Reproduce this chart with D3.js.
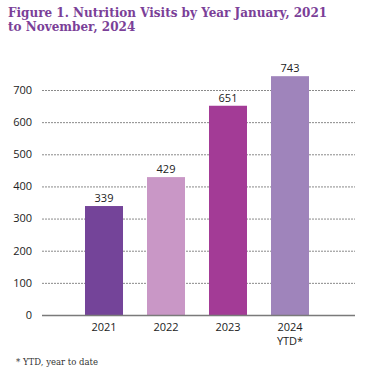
<!DOCTYPE html>
<html>
<head>
<meta charset="utf-8">
<script src="https://cdn.jsdelivr.net/npm/d3@7"></script>
<style>
  body { margin: 0; background: #fff; }
</style>
</head>
<body>
<div id="chart"></div>
<script>
// data
var years = ['2021', '2022', '2023', '2024'];
var yearNotes = ['', '', '', 'YTD*'];
var visits = [339, 429, 651, 743];
var barColors = ['#744499', '#c997c6', '#a33b96', '#9f84bb'];
var yTicks = [0, 100, 200, 300, 400, 500, 600, 700];

var width = 367, height = 375;

var svg = d3.select('#chart')
  .append('svg')
  .attr('width', width)
  .attr('height', height);

// title
var title = svg.append('text')
  .attr('fill', '#7b3f98')
  .attr('font-family', 'DejaVu Serif, serif')
  .attr('font-weight', 'bold')
  .attr('font-size', 12);
title.append('tspan').attr('x', 8).attr('y', 17).text('Figure 1. Nutrition Visits by Year January, 2021');
title.append('tspan').attr('x', 8).attr('y', 31).text('to November, 2024');

var x = d3.scaleBand()
  .domain(years)
  .range([73, 321])
  .paddingInner(0.387)
  .paddingOuter(0.1935);

var y = d3.scaleLinear()
  .domain([0, 700])
  .range([315, 90]);

// gridlines
svg.append('g')
  .selectAll('line')
  .data(yTicks.filter(function (d) { return d > 0; }))
  .enter().append('line')
  .attr('x1', 42)
  .attr('x2', 355)
  .attr('y1', function (d) { return y(d) + 0.5; })
  .attr('y2', function (d) { return y(d) + 0.5; })
  .attr('stroke', '#8a8a8a')
  .attr('stroke-width', 1)
  .attr('stroke-dasharray', '2,1');

// y labels
svg.append('g')
  .selectAll('text')
  .data(yTicks)
  .enter().append('text')
  .attr('x', 32)
  .attr('y', function (d) { return y(d); })
  .attr('dy', '0.35em')
  .attr('text-anchor', 'end')
  .attr('font-family', 'Open Sans, sans-serif')
  .attr('font-size', 11)
  .attr('fill', '#222')
  .text(function (d) { return d; });

// bars
svg.append('g')
  .selectAll('rect')
  .data(visits)
  .enter().append('rect')
  .attr('x', function (d, i) { return x(years[i]); })
  .attr('y', function (d) { return y(d); })
  .attr('width', x.bandwidth())
  .attr('height', function (d) { return y(0) - y(d); })
  .attr('fill', function (d, i) { return barColors[i]; });

// value labels
svg.append('g')
  .selectAll('text')
  .data(visits)
  .enter().append('text')
  .attr('x', function (d, i) { return x(years[i]) + x.bandwidth() / 2; })
  .attr('y', function (d) { return y(d) - 4; })
  .attr('text-anchor', 'middle')
  .attr('font-family', 'Open Sans, sans-serif')
  .attr('font-size', 11)
  .attr('fill', '#222')
  .text(function (d) { return d; });

// baseline
svg.append('line')
  .attr('x1', 42)
  .attr('x2', 355)
  .attr('y1', y(0) + 0.5)
  .attr('y2', y(0) + 0.5)
  .attr('stroke', '#7a7a7a')
  .attr('stroke-width', 1.5);

// x labels
var xl = svg.append('g')
  .selectAll('text')
  .data(years)
  .enter().append('text')
  .attr('x', function (d) { return x(d) + x.bandwidth() / 2; })
  .attr('y', 331)
  .attr('text-anchor', 'middle')
  .attr('font-family', 'Open Sans, sans-serif')
  .attr('font-size', 11)
  .attr('fill', '#222');
xl.append('tspan')
  .attr('x', function (d) { return x(d) + x.bandwidth() / 2; })
  .text(function (d) { return d; });
xl.append('tspan')
  .attr('x', function (d) { return x(d) + x.bandwidth() / 2; })
  .attr('dy', 14)
  .text(function (d, i) { return yearNotes[i]; });

// footnote
svg.append('text')
  .attr('x', 16)
  .attr('y', 365)
  .attr('font-family', 'DejaVu Serif, serif')
  .attr('font-size', 8.5)
  .attr('fill', '#333')
  .text('* YTD, year to date');
</script>
</body>
</html>
